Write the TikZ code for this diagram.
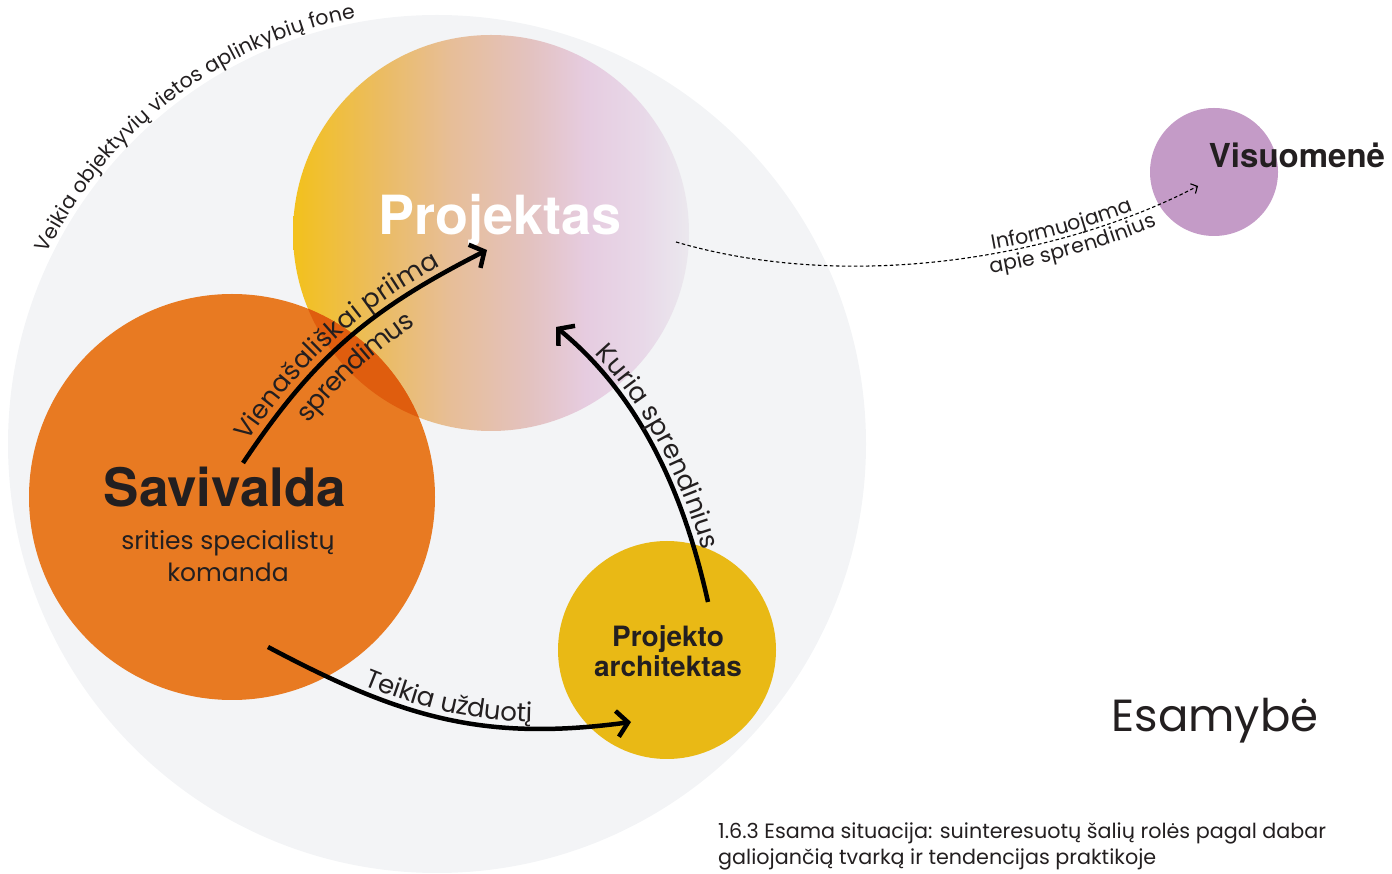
\documentclass[tikz,border=0pt]{standalone}
\usepackage{fontspec}
\setmainfont{Poppins}
\newfontfamily\headfont{TeX Gyre Heros}
\usetikzlibrary{arrows.meta,decorations.text,positioning}

\definecolor{fondo}{HTML}{F3F4F6}
\definecolor{naranja}{HTML}{E87A22}
\definecolor{naranjaosc}{HTML}{DF5D0E}
\definecolor{amarillo}{HTML}{E9B915}
\definecolor{lila}{HTML}{C49BC7}
\definecolor{tinta}{HTML}{231F20}
\definecolor{pa}{HTML}{F3C11C}
\definecolor{pb}{HTML}{EBBC62}
\definecolor{pc}{HTML}{E7BE98}
\definecolor{pd}{HTML}{E3C2C0}
\definecolor{pe}{HTML}{E6CCE0}
\definecolor{pf}{HTML}{E8D8E8}
\definecolor{pg}{HTML}{EBE8EE}
\pgfdeclarehorizontalshading{proyecto}{100bp}{color(0bp)=(pa); color(25bp)=(pa);
  color(36bp)=(pb); color(45bp)=(pc); color(55bp)=(pd); color(62bp)=(pe);
  color(69bp)=(pf); color(75bp)=(pg); color(100bp)=(pg)}

\newcommand\etiq{\fontsize{26}{26}\selectfont}
\newcommand\etiqchica{\fontsize{20.5}{20.5}\selectfont}

\begin{document}
\begin{tikzpicture}[x=1pt, y=1pt,
  circulo/.style={circle, inner sep=0pt, minimum size=#1},
  titulo/.style={tinta, font=\headfont\bfseries\fontsize{#1}{#1}\selectfont},
  flecha/.style={line width=4.5pt, black, -{Straight Barb[length=11pt, width=26pt, line width=4.5pt]}},
  flechafina/.style={line width=1.1pt, black, dash pattern=on 3.5pt off 2.5pt, -{Straight Barb[length=5pt, width=11pt, line width=1.1pt]}},
  texto/.style={decorate, decoration={text along path, text color=tinta, #1}}]

\useasboundingbox (0,0) rectangle (1392,873);

% Círculos
\node[circulo=858, fill=fondo] (fondo) at (437,429) {};
\node[circulo=396, shade, shading=proyecto] (proj) at (491,640) {};
\node[circulo=406, fill=naranja] (sav) at (232,376) {};
\begin{scope}
  \clip (sav.center) circle (203);
  \fill[naranjaosc] (proj.center) circle (198);
\end{scope}
\node[circulo=218, fill=amarillo] (arq) at (667,223) {};
\node[circulo=128, fill=lila] (vis) at (1214,701) {};

% Etiquetas
\node[titulo=54, white, anchor=base] (projtxt) at (500,638) {Projektas};
\node[titulo=53, anchor=base] (savtxt) at (225,366) {Savivalda};
\node[tinta, align=center, font=\fontsize{25}{32}\selectfont] (savsub) at (228,317) {srities specialistų\\komanda};
\node[titulo=28, align=center] (arqtxt) at (668,222) {Projekto\\[2pt]architektas};
\node[titulo=33, anchor=base] (vistxt) at (1297,705) {Visuomenė};
\node[tinta, anchor=base, font=\fontsize{45}{45}\selectfont] (esam) at (1215,141) {Esamybė};
\node[tinta, anchor=north west, align=left, inner sep=0pt, font=\fontsize{20.7}{26}\selectfont] (capt) at (718,50)
  {1.6.3 Esama situacija: suinteresuotų šalių rolės pagal dabar\\galiojančią tvarką ir tendencijas praktikoje};

% Extremos de las flechas
\coordinate (sav-a) at (243,410);
\coordinate (proj-a) at (487,623);
\coordinate (arq-a) at (708,271);
\coordinate (proj-b) at (556,546);
\coordinate (sav-b) at (268,226);
\coordinate (arq-b) at (631,151);
\coordinate (proj-c) at (676,631);
\coordinate (vis-a) at (1198,687);

% Flechas
\draw[flecha] (sav-a) .. controls (315,518) and (371,564) .. (proj-a);
\draw[flecha] (arq-a) .. controls (684,379) and (641,476) .. (proj-b);
\draw[flecha] (sav-b) .. controls (400,156) and (482,131) .. (arq-b);
\draw[flechafina] (proj-c) .. controls (850,580) and (1060,615) .. (vis-a);

% Textos sobre las flechas
\path[texto={raise=8pt, text align={left indent=20pt}, text={|\etiq|Vienašališkai priima}}]
  (sav-a) .. controls (315,518) and (371,564) .. (proj-a);
\path[texto={raise=-30pt, text align={left indent=72pt}, text={|\etiq|sprendimus}}]
  (sav-a) .. controls (315,518) and (371,564) .. (proj-a);
\path[texto={raise=7pt, text align={left indent=46pt}, text={|\etiq|Kuria sprendinius}}]
  (proj-b) .. controls (641,476) and (684,379) .. (arq-a);
\path[texto={raise=7pt, text align={left indent=103pt}, text={|\etiq|Teikia užduotį}}]
  (sav-b) .. controls (400,156) and (482,131) .. (arq-b);
\path[texto={raise=4pt, text align={left indent=320pt}, text={|\etiqchica|Informuojama}}]
  (proj-c) .. controls (850,580) and (1060,615) .. (vis-a);
\path[texto={raise=-19pt, text align={left indent=314pt}, text={|\etiqchica|apie sprendinius}}]
  (proj-c) .. controls (850,580) and (1060,615) .. (vis-a);

% Texto del círculo exterior
\path[texto={raise=5pt, text align={left indent=0pt}, text={|\etiqchica|Veikia objektyvių vietos aplinkybių fone}}]
  ([shift={(154:429)}]fondo.center) arc[start angle=154, end angle=88, radius=429];

\end{tikzpicture}
\end{document}
